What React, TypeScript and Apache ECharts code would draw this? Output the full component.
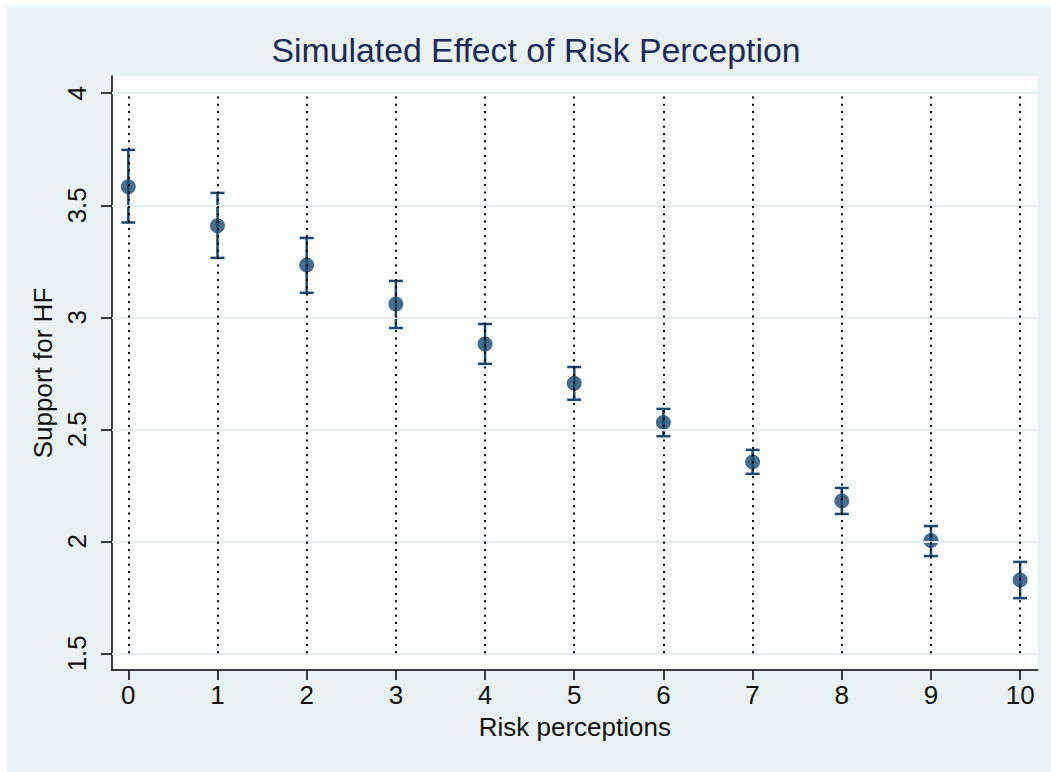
import React, { useEffect, useRef } from "react";
import * as echarts from "echarts";

const titleText = "Simulated Effect of Risk Perception";
const xName = "Risk perceptions";
const yName = "Support for HF";
const xValues = [0, 1, 2, 3, 4, 5, 6, 7, 8, 9, 10];
const estimates = [3.583, 3.408, 3.233, 3.059, 2.881, 2.705, 2.53, 2.354, 2.18, 2.003, 1.827];
const upper = [3.747, 3.555, 3.354, 3.162, 2.97, 2.778, 2.591, 2.408, 2.238, 2.068, 1.908];
const lower = [3.423, 3.265, 3.109, 2.952, 2.792, 2.632, 2.469, 2.301, 2.122, 1.934, 1.746];
const yTicks = [1.5, 2, 2.5, 3, 3.5, 4];
const xTicks = [0, 1, 2, 3, 4, 5, 6, 7, 8, 9, 10];

const NAVY = "#1a476f";
const FONT = "'Liberation Sans', Arial, Helvetica, sans-serif";

export default function App() {
  const ref = useRef<HTMLDivElement>(null);
  useEffect(() => {
    if (!ref.current) return;
    const chart = echarts.init(ref.current, undefined, { renderer: "svg" });
    const pointData = xValues.map((x, i) => [x, estimates[i]]);
    const barData = xValues.map((x, i) => [x, lower[i], upper[i]]);
    chart.setOption({
      animation: false,
      backgroundColor: "#eaf2f3",
      graphic: [
        {
          type: "text",
          x: 529,
          y: 44,
          style: {
            text: titleText,
            fill: "#1c2a57",
            font: `33.8px ${FONT}`,
            textAlign: "center",
            textVerticalAlign: "middle",
          },
        },
      ],
      grid: {
        left: 105,
        top: 70,
        right: 13.3,
        bottom: 102,
        show: true,
        backgroundColor: "#ffffff",
        borderWidth: 0,
      },
      xAxis: {
        type: "value",
        min: -0.183,
        max: 10.197,
        name: xName,
        nameLocation: "middle",
        nameGap: 44,
        nameTextStyle: { fontFamily: FONT, fontSize: 26, color: "#111" },
        axisLine: { show: true, onZero: false, lineStyle: { color: "#000", width: 1.5 } },
        axisTick: { show: true, length: 10, customValues: xTicks, lineStyle: { color: "#000", width: 1.5 } },
        axisLabel: { customValues: xTicks, margin: 12, fontFamily: FONT, fontSize: 26, color: "#111" },
        splitLine: { show: false },
      },
      yAxis: {
        type: "value",
        min: 1.4254,
        max: 4.077,
        name: yName,
        nameLocation: "middle",
        nameRotate: 90,
        nameGap: 48,
        nameTextStyle: { fontFamily: FONT, fontSize: 26, color: "#111" },
        axisLine: { show: true, onZero: false, lineStyle: { color: "#000", width: 1.5 } },
        axisTick: { show: true, length: 11, customValues: yTicks, lineStyle: { color: "#000", width: 1.5 } },
        axisLabel: {
          customValues: yTicks,
          rotate: 90,
          margin: 22,
          fontFamily: FONT,
          fontSize: 26,
          color: "#111",
        },
        splitLine: { show: false },
      },
      series: [
        {
          type: "line",
          data: [],
          z: 1,
          markLine: {
            silent: true,
            symbol: "none",
            label: { show: false },
            lineStyle: { color: "#e4eef0", width: 2, type: "solid" },
            data: yTicks.map((v) => ({ yAxis: v })),
          },
        },
        {
          type: "custom",
          z: 2,
          data: barData,
          encode: { x: 0, y: [1, 2] },
          renderItem: (params: any, api: any) => {
            const x = api.value(0);
            const pLo = api.coord([x, api.value(1)]);
            const pHi = api.coord([x, api.value(2)]);
            const hw = 7;
            const st = { stroke: NAVY, lineWidth: 2.5 };
            return {
              type: "group",
              children: [
                { type: "line", shape: { x1: pLo[0], y1: pLo[1], x2: pHi[0], y2: pHi[1] }, style: st },
                { type: "line", shape: { x1: pHi[0] - hw, y1: pHi[1], x2: pHi[0] + hw, y2: pHi[1] }, style: st },
                { type: "line", shape: { x1: pLo[0] - hw, y1: pLo[1], x2: pLo[0] + hw, y2: pLo[1] }, style: st },
              ],
            };
          },
        },
        {
          type: "line",
          data: [],
          z: 3,
          markLine: {
            silent: true,
            symbol: "none",
            label: { show: false },
            lineStyle: { color: "#000", width: 2, type: [2, 5.3], cap: "butt" },
            data: xTicks.map((x) => [
              { coord: [x, yTicks[0]] },
              { coord: [x, yTicks[yTicks.length - 1]] },
            ]),
          },
        },
        {
          type: "scatter",
          z: 4,
          data: pointData,
          symbol: "circle",
          symbolSize: 15,
          itemStyle: { color: NAVY },
        },
      ],
    });
    return () => chart.dispose();
  }, []);
  return (
    <div
      ref={ref}
      style={{ position: "fixed", left: 7, top: 6, width: 1044, height: 766 }}
    />
  );
}
